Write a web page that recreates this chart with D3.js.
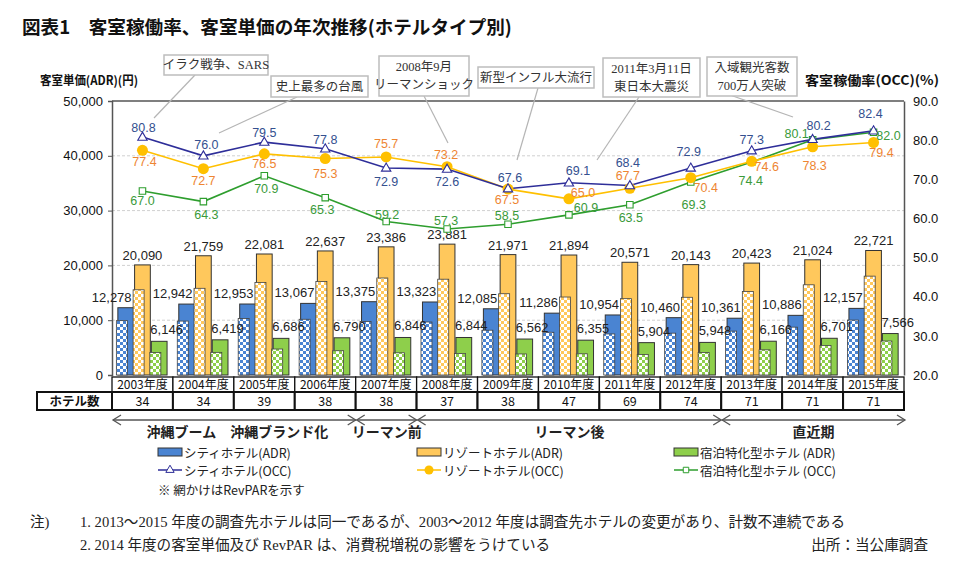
<!DOCTYPE html>
<html><head><meta charset="utf-8">
<script src="https://cdn.jsdelivr.net/npm/d3@7"></script>
<style>
html,body{margin:0;padding:0;background:#fff;}
svg{display:block;}
</style></head>
<body>
<svg id="chart" width="954" height="572"></svg>
<script>
// ===== DATA =====
const years = ["2003年度","2004年度","2005年度","2006年度","2007年度","2008年度","2009年度","2010年度","2011年度","2012年度","2013年度","2014年度","2015年度"];
const hotelCounts = [34,34,39,38,38,37,38,47,69,74,71,71,71];
const cityADR   = [12278,12942,12953,13067,13375,13323,12085,11286,10954,10460,10361,10886,12157];
const resortADR = [20090,21759,22081,22637,23386,23881,21971,21894,20571,20143,20423,21024,22721];
const lodgeADR  = [6146,6419,6686,6790,6846,6844,6562,6355,5904,5948,6166,6701,7566];
const cityRevPAR   = [9920,9840,10300,10170,9750,9670,8170,7800,7490,7630,8010,8730,10020];
const resortRevPAR = [15550,15820,16890,17050,17700,17480,14830,14230,13930,14180,15240,16460,18040];
const lodgeRevPAR  = [4120,4130,4740,4430,4050,3920,3840,3870,3750,4120,4590,5370,6200];
const cityOCC   = [80.8,76.0,79.5,77.8,72.9,72.6,67.6,69.1,68.4,72.9,77.3,80.2,82.4];
const resortOCC = [77.4,72.7,76.5,75.3,75.7,73.2,67.5,65.0,67.7,70.4,74.6,78.3,79.4];
const lodgeOCC  = [67.0,64.3,70.9,65.3,59.2,57.3,58.5,60.9,63.5,69.3,74.4,80.1,82.0];
const adrTicks = [0,10000,20000,30000,40000,50000];
const occTicks = [20,30,40,50,60,70,80,90];
const periods = [
  {label:"沖縄ブーム　沖縄ブランド化", from:0, to:4},
  {label:"リーマン前", from:4, to:5},
  {label:"リーマン後", from:5, to:10},
  {label:"直近期", from:10, to:13}
];
const events = [
  {lines:["イラク戦争、SARS"]},
  {lines:["史上最多の台風"]},
  {lines:["2008年9月","リーマンショック"]},
  {lines:["新型インフル大流行"]},
  {lines:["2011年3月11日","東日本大震災"]},
  {lines:["入域観光客数","700万人突破"]}
];
const notes = [
  "1. 2013～2015 年度の調査先ホテルは同一であるが、2003～2012 年度は調査先ホテルの変更があり、計数不連続である",
  "2. 2014 年度の客室単価及び RevPAR は、消費税増税の影響をうけている"
];

// ===== LAYOUT (positions only) =====
const eventBoxes = [
  {x:164,y:55,w:104,h:20, lx1:195,ly1:75, lx2:154,ly2:118},
  {x:271,y:76,w:97,h:21, lx1:297,ly1:97, lx2:219,ly2:133},
  {x:379,y:56,w:90,h:40, lx1:424,ly1:96, lx2:448,ly2:143},
  {x:478,y:67,w:116,h:21, lx1:538,ly1:88, lx2:517,ly2:160},
  {x:603,y:58,w:97,h:39, lx1:639,ly1:97, lx2:597,ly2:160},
  {x:707,y:57,w:90,h:39, lx1:730,ly1:95, lx2:793,ly2:117}
];
const cityLbl = [[1,-9],[3,-11],[0,-9],[0,-9],[0,14],[0,13],[2,-11],[9,-12],[-2,-23],[-2,-16],[0,-11],[6,-13],[-3,-17]];
const resortLbl = [[2,12],[0,12],[0,10],[0,15],[0,-13],[-1,-12],[-1,11],[14,-6],[-2,-12],[15,10],[15,6],[2,19],[8,11]];
const lodgeLbl = [[0,10],[3,13],[2,13],[-3,12],[1,-7],[-1,-8],[-1,-8],[17,-7],[1,13],[3,23],[-1,19],[-16,-6],[15,4]];

const C = {
  blue:"#4A84D2", orange:"#FFC85C", green:"#8ECF4B",
  cityLine:"#2E2E99", resortLine:"#FFC000", lodgeLine:"#2E9E2E",
  cityTxt:"#34508F", resortTxt:"#EE8532", lodgeTxt:"#3A9A3A"
};
const sans = "'Noto Sans CJK JP','Noto Sans',sans-serif";
const narrow = "'Liberation Sans Narrow','Liberation Sans','Noto Sans CJK JP',sans-serif";
const serif = "'Liberation Serif','Noto Sans CJK JP',serif";

const svg = d3.select("#chart");
const L = 112, R = 904, T = 101, B = 375;

const x0 = d3.scaleBand().domain(years).range([L,R]).padding(0);
const x1 = d3.scaleBand().domain(["city","resort","lodge"]).range([0,x0.bandwidth()]).paddingInner(0.06).paddingOuter(0.35);
const yL = d3.scaleLinear().domain([0,50000]).range([B,T]);
const yR = d3.scaleLinear().domain([20,90]).range([B,T]);

// patterns
const defs = svg.append("defs");
[["pBlue",C.blue],["pOrange",C.orange],["pGreen",C.green]].forEach(([id,col])=>{
  const p = defs.append("pattern").attr("id",id).attr("patternUnits","userSpaceOnUse").attr("width",6).attr("height",6);
  p.append("rect").attr("width",6).attr("height",6).attr("fill","#fff");
  p.append("rect").attr("width",3).attr("height",3).attr("fill",col);
  p.append("rect").attr("x",3).attr("y",3).attr("width",3).attr("height",3).attr("fill",col);
});

// title
svg.append("text").attr("x",22).attr("y",34).attr("font-family",sans).attr("font-size",18.6).attr("font-weight","bold").attr("fill","#111")
  .text("図表1　客室稼働率、客室単価の年次推移(ホテルタイプ別)");

// axis titles
svg.append("text").attr("x",40).attr("y",85).attr("font-family",sans).attr("font-size",12.5).attr("font-weight","bold").attr("fill","#111")
  .attr("textLength",98).attr("lengthAdjust","spacingAndGlyphs").text("客室単価(ADR)(円)");
svg.append("text").attr("x",805).attr("y",85).attr("font-family",sans).attr("font-size",13).attr("font-weight","bold").attr("fill","#111")
  .attr("textLength",134).attr("lengthAdjust","spacingAndGlyphs").text("客室稼働率(OCC)(%)");

// gridlines
svg.append("g").selectAll("line").data(adrTicks.filter(d=>d>0 && d<50000)).join("line")
  .attr("x1",L).attr("x2",R).attr("y1",d=>yL(d)).attr("y2",d=>yL(d))
  .attr("stroke","#d0d0d0").attr("stroke-dasharray","3,2").attr("stroke-width",1);

// axes
const axL = svg.append("g").attr("transform",`translate(${L},0)`)
  .call(d3.axisLeft(yL).tickValues(adrTicks).tickFormat(d3.format(",")).tickSize(4).tickPadding(5));
axL.select(".domain").attr("stroke","#555").attr("stroke-width",1.5);
axL.selectAll(".tick line").attr("stroke","#555");
axL.selectAll("text").attr("font-family",narrow).attr("font-size",13).attr("fill","#111");

const axR = svg.append("g").attr("transform",`translate(${R},0)`)
  .call(d3.axisRight(yR).tickValues(occTicks).tickFormat(d3.format(".1f")).tickSize(0).tickPadding(9));
axR.select(".domain").attr("stroke","#555").attr("stroke-width",1.5);
axR.selectAll("text").attr("font-family",narrow).attr("font-size",13).attr("fill","#111");

// top frame
svg.append("line").attr("x1",L).attr("x2",R).attr("y1",T).attr("y2",T).attr("stroke","#555").attr("stroke-width",1.5);

// bars
const series = [
  {key:"city", adr:cityADR, rev:cityRevPAR, col:C.blue, pat:"pBlue"},
  {key:"resort", adr:resortADR, rev:resortRevPAR, col:C.orange, pat:"pOrange"},
  {key:"lodge", adr:lodgeADR, rev:lodgeRevPAR, col:C.green, pat:"pGreen"}
];
const gBars = svg.append("g");
series.forEach(s=>{
  gBars.append("g").selectAll("rect").data(s.adr).join("rect")
    .attr("x",(d,i)=>x0(years[i])+x1(s.key)).attr("width",x1.bandwidth())
    .attr("y",d=>yL(d)).attr("height",d=>B-yL(d))
    .attr("fill",s.col).attr("stroke","#333").attr("stroke-width",1);
});
series.forEach(s=>{
  gBars.append("g").selectAll("rect").data(s.rev).join("rect")
    .attr("x",(d,i)=>x0(years[i])+x1(s.key)-1.5).attr("width",x1.bandwidth()*0.7)
    .attr("y",d=>yL(d)).attr("height",d=>B-yL(d))
    .attr("fill",`url(#${s.pat})`).attr("stroke","#444").attr("stroke-width",0.8);
});

// ADR labels
const fmt = d3.format(",");
const gAL = svg.append("g").attr("font-family",narrow).attr("font-size",13).attr("fill","#222");
gAL.selectAll(".c").data(cityADR).join("text")
  .attr("x",(d,i)=>x0(years[i])+x1("city")+x1.bandwidth()-2).attr("y",d=>yL(d)-6).attr("text-anchor","end").text(fmt);
gAL.selectAll(".r").data(resortADR).join("text")
  .attr("x",(d,i)=>x0(years[i])+x1("resort")+x1.bandwidth()/2).attr("y",d=>yL(d)-5).attr("text-anchor","middle").text(fmt);
gAL.selectAll(".l").data(lodgeADR).join("text")
  .attr("x",(d,i)=>x0(years[i])+x1("lodge")-1).attr("y",d=>yL(d)-7).attr("text-anchor","start").text(fmt);

// event callouts (leaders)
const gEv = svg.append("g");
events.forEach((e,i)=>{
  const b = eventBoxes[i];
  gEv.append("line").attr("x1",b.lx1).attr("y1",b.ly1).attr("x2",b.lx2).attr("y2",b.ly2).attr("stroke","#b5b5b5").attr("stroke-width",1.2);
});

// OCC lines
const cx = i => x0(years[i]) + x0.bandwidth()/2;
const line = d3.line().x((d,i)=>cx(i)).y(d=>yR(d));
const gL = svg.append("g");
gL.append("path").datum(lodgeOCC).attr("d",line).attr("fill","none").attr("stroke",C.lodgeLine).attr("stroke-width",1.6);
gL.append("path").datum(resortOCC).attr("d",line).attr("fill","none").attr("stroke",C.resortLine).attr("stroke-width",1.6);
gL.append("path").datum(cityOCC).attr("d",line).attr("fill","none").attr("stroke",C.cityLine).attr("stroke-width",1.6);
gL.append("g").selectAll("path").data(lodgeOCC).join("path")
  .attr("transform",(d,i)=>`translate(${cx(i)},${yR(d)})`).attr("d",d3.symbol(d3.symbolSquare,42))
  .attr("fill","#fff").attr("stroke",C.lodgeLine).attr("stroke-width",1.1);
gL.append("g").selectAll("circle").data(resortOCC).join("circle")
  .attr("cx",(d,i)=>cx(i)).attr("cy",d=>yR(d)).attr("r",5.5).attr("fill",C.resortLine);
gL.append("g").selectAll("path").data(cityOCC).join("path")
  .attr("transform",(d,i)=>`translate(${cx(i)},${yR(d)+0.5})`).attr("d",d3.symbol(d3.symbolTriangle,38))
  .attr("fill","#fff").attr("stroke",C.cityLine).attr("stroke-width",1.1);

// OCC labels
const gOL = svg.append("g").attr("font-family",narrow).attr("font-size",12.5).attr("text-anchor","middle").attr("dominant-baseline","central");
[[cityOCC,cityLbl,C.cityTxt],[resortOCC,resortLbl,C.resortTxt],[lodgeOCC,lodgeLbl,C.lodgeTxt]].forEach(([arr,off,col])=>{
  gOL.append("g").selectAll("text").data(arr).join("text")
    .attr("x",(d,i)=>cx(i)+off[i][0]).attr("y",(d,i)=>yR(d)+off[i][1])
    .attr("fill",col).text(d=>d.toFixed(1));
});

// event boxes
events.forEach((e,i)=>{
  const b = eventBoxes[i];
  gEv.append("rect").attr("x",b.x).attr("y",b.y).attr("width",b.w).attr("height",b.h).attr("fill","#fff").attr("stroke","#bdbdbd").attr("stroke-width",1.5);
  const n = e.lines.length;
  e.lines.forEach((t,j)=>{
    gEv.append("text").attr("x",b.x+b.w/2).attr("y",b.y+b.h/2+(j-(n-1)/2)*18).attr("dominant-baseline","central")
      .attr("text-anchor","middle").attr("font-family",serif).attr("font-size",12.5).attr("fill","#333").text(t);
  });
});

// table
const gT = svg.append("g");
const rowA = [377,392], rowB = [392,410];
gT.selectAll(".yc").data(years).join("rect")
  .attr("x",d=>x0(d)).attr("y",rowA[0]).attr("width",x0.bandwidth()).attr("height",rowA[1]-rowA[0])
  .attr("fill","#fff").attr("stroke","#111").attr("stroke-width",1.3);
gT.selectAll(".yt").data(years).join("text")
  .attr("x",d=>x0(d)+x0.bandwidth()/2).attr("y",rowA[1]-3).attr("text-anchor","middle")
  .attr("font-family",sans).attr("font-size",12).attr("fill","#111").text(d=>d);
gT.append("rect").attr("x",37).attr("y",rowB[0]).attr("width",L-37).attr("height",rowB[1]-rowB[0]).attr("fill","#fff").attr("stroke","#111").attr("stroke-width",2);
gT.append("text").attr("x",(37+L)/2).attr("y",rowB[1]-4).attr("text-anchor","middle")
  .attr("font-family",sans).attr("font-size",12.5).attr("font-weight","bold").attr("fill","#111").text("ホテル数");
gT.selectAll(".hc").data(hotelCounts).join("rect")
  .attr("x",(d,i)=>x0(years[i])).attr("y",rowB[0]).attr("width",x0.bandwidth()).attr("height",rowB[1]-rowB[0])
  .attr("fill","#fff").attr("stroke","#111").attr("stroke-width",2);
gT.selectAll(".ht").data(hotelCounts).join("text")
  .attr("x",(d,i)=>x0(years[i])+x0.bandwidth()/2).attr("y",rowB[1]-4).attr("text-anchor","middle")
  .attr("font-family",sans).attr("font-size",12.5).attr("fill","#111").text(d=>d);

// period arrows
const gP = svg.append("g");
const ay = 420;
const xAt = k => k < years.length ? x0(years[k]) : R;
periods.forEach(p=>{
  const a = xAt(p.from)+1, b = xAt(p.to)+ (p.to===years.length?1:0);
  gP.append("line").attr("x1",a).attr("x2",b).attr("y1",ay).attr("y2",ay).attr("stroke","#555").attr("stroke-width",1.3);
  gP.append("path").attr("d",`M${a+8},${ay-5}L${a},${ay}L${a+8},${ay+5}`).attr("fill","none").attr("stroke","#555").attr("stroke-width",1.3);
  gP.append("path").attr("d",`M${b-8},${ay-5}L${b},${ay}L${b-8},${ay+5}`).attr("fill","none").attr("stroke","#555").attr("stroke-width",1.3);
  gP.append("text").attr("x",(a+b)/2+ (p.from===0?3:0)).attr("y",437).attr("text-anchor","middle")
    .attr("font-family",sans).attr("font-size",14).attr("font-weight","bold").attr("fill","#222").text(p.label);
});

// legend
const gLg = svg.append("g").attr("font-family",sans).attr("font-size",12.5).attr("fill","#222");
const legCols = [158,417,674];
const legADR = [["シティホテル(ADR)",C.blue],["リゾートホテル(ADR)",C.orange],["宿泊特化型ホテル (ADR)",C.green]];
legADR.forEach(([t,c],i)=>{
  gLg.append("rect").attr("x",legCols[i]).attr("y",448).attr("width",24).attr("height",8).attr("fill",c).attr("stroke","#333").attr("stroke-width",1);
  gLg.append("text").attr("x",legCols[i]+26).attr("y",452).attr("dominant-baseline","central").text(t);
});
const legOCC = ["シティホテル(OCC)","リゾートホテル(OCC)","宿泊特化型ホテル (OCC)"];
legOCC.forEach((t,i)=>{
  const x = legCols[i], y = 470;
  const col = [C.cityLine,C.resortLine,C.lodgeLine][i];
  gLg.append("line").attr("x1",x).attr("x2",x+24).attr("y1",y).attr("y2",y).attr("stroke",col).attr("stroke-width",1.5);
  if(i===0) gLg.append("path").attr("transform",`translate(${x+12},${y})`).attr("d",d3.symbol(d3.symbolTriangle,30)).attr("fill","#fff").attr("stroke",col);
  if(i===1) gLg.append("circle").attr("cx",x+12).attr("cy",y).attr("r",4.5).attr("fill",col);
  if(i===2) gLg.append("path").attr("transform",`translate(${x+12},${y})`).attr("d",d3.symbol(d3.symbolSquare,30)).attr("fill","#fff").attr("stroke",col);
  gLg.append("text").attr("x",x+26).attr("y",y).attr("dominant-baseline","central").text(t);
});
gLg.append("text").attr("x",158).attr("y",489).attr("dominant-baseline","central").text("※ 網かけはRevPARを示す");

// notes
const gN = svg.append("g").attr("font-family",serif).attr("font-size",14.6).attr("fill","#222");
gN.append("text").attr("x",30).attr("y",527).text("注)");
gN.append("text").attr("x",80).attr("y",527).text(notes[0]);
gN.append("text").attr("x",80).attr("y",550).text(notes[1]);
gN.append("text").attr("x",928).attr("y",550).attr("text-anchor","end").text("出所：当公庫調査");
</script>
</body></html>
